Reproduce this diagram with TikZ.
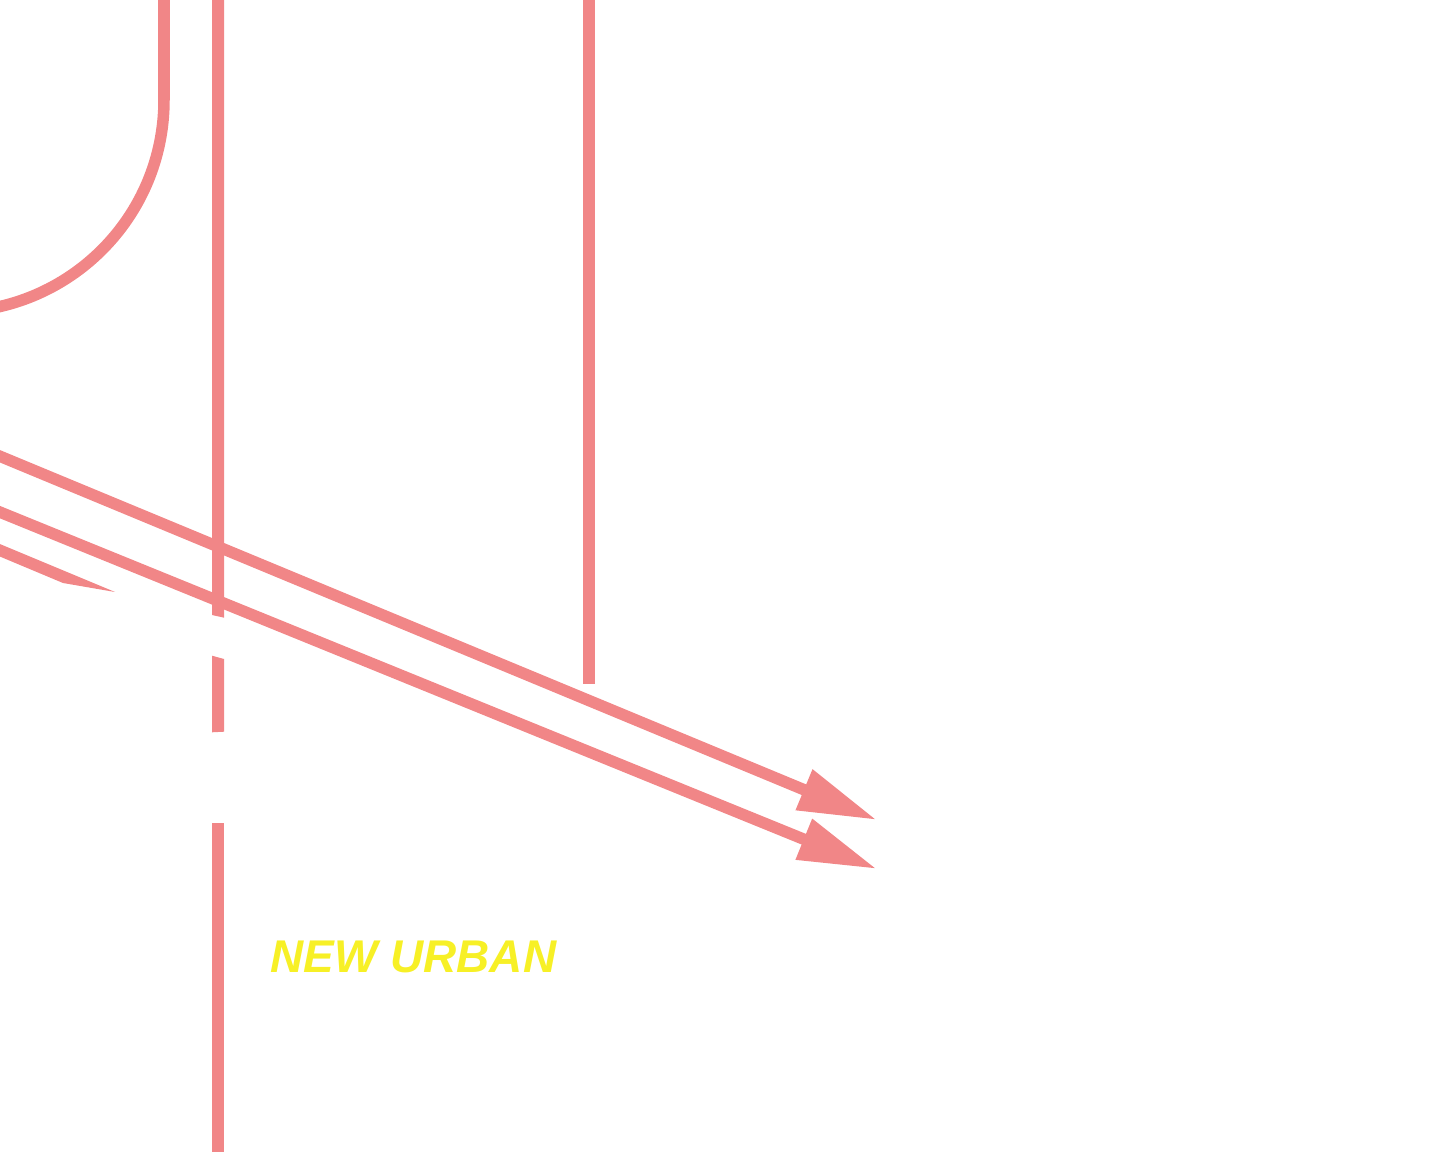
\documentclass[tikz,border=0pt]{standalone}
\usepackage{fontspec}
\setmainfont{Liberation Sans}
\usetikzlibrary{arrows.meta}

\definecolor{roadpink}{RGB}{241,134,135}
\definecolor{labelyellow}{RGB}{247,240,38}

\begin{document}
\begin{tikzpicture}[
    x=0.01cm, y=-0.01cm,
    road/.style={
        draw=roadpink,
        line width=0.115cm
    },
    piece/.style={
        fill=roadpink,
        draw=none
    },
    flow/.style={
        road,
        -{Triangle[length=7.9mm, width=4.1mm]}
    },
    label/.style={
        text=labelyellow,
        font=\fontsize{13.05pt}{15pt}\selectfont\bfseries\itshape,
        inner sep=0pt,
        anchor=base west
    }
]

    % Frame
    \useasboundingbox (0,0) rectangle (1439,1152);
    \clip (0,0) rectangle (1439,1152);

    % Coordinates
    \coordinate (curvetop) at (164,-20);
    \coordinate (curvebend) at (164,100);
    \coordinate (uppers) at (-20,448);
    \coordinate (uppere) at (877,820);
    \coordinate (lowers) at (-20,504);
    \coordinate (lowere) at (877,869);
    \coordinate (stubtop) at (589,-20);
    \coordinate (stubend) at (589,684);

    % Curved road
    \draw [road] (curvetop) -- (curvebend) arc[start angle=0, end angle=90, radius=212];

    % Vertical road, cut in pieces
    \fill [piece] (212,-5) -- (224,-5) -- (224,617.7) -- (212,615) -- cycle;
    \fill [piece] (212,655.7) -- (224,659) -- (224,731.7) -- (212,732.3) -- cycle;
    \fill [piece] (212,823) -- (224,823) -- (224,1160) -- (212,1160) -- cycle;

    % Short vertical road
    \draw [road] (stubtop) -- (stubend);

    % Tapered stub
    \fill [piece] (-5,542) -- (115,592) -- (63,583) -- (-5,554.5) -- cycle;

    % Arrows
    \draw [flow] (uppers) -- (uppere);
    \draw [flow] (lowers) -- (lowere);

    % Label
    \node (newurban) [label] at (270,972) {NEW URBAN};

\end{tikzpicture}
\end{document}
